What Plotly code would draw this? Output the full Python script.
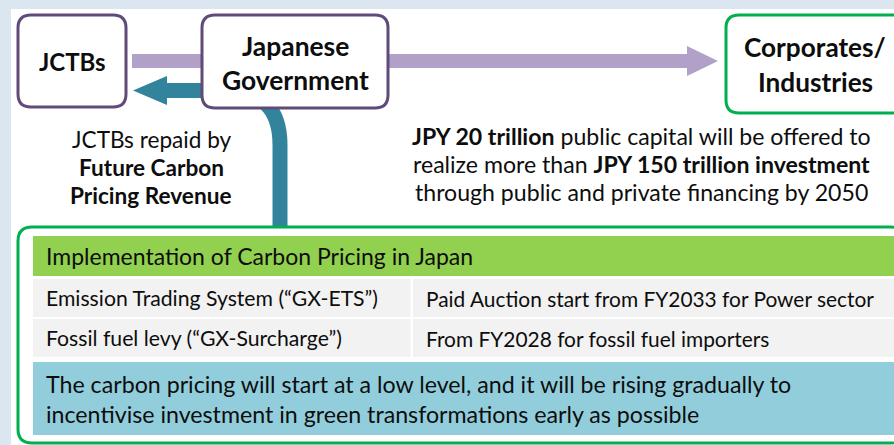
import plotly.graph_objects as go

# ---- content ----
node_left = ["<b>JCTBs</b>"]
node_gov = ["<b>Japanese</b>", "<b>Government</b>"]
node_corp = ["<b>Corporates/</b>", "<b>Industries</b>"]
left_desc = ["JCTBs repaid by", "<b>Future Carbon</b>", "<b>Pricing Revenue</b>"]
right_desc = [
    "<b>JPY 20 trillion</b> public capital will be offered to",
    "realize more than <b>JPY 150 trillion investment</b>",
    "through public and private financing by 2050",
]
table_title = "Implementation of Carbon Pricing in Japan"
table_left = ["Emission Trading System (“GX-ETS”)", "Fossil fuel levy (“GX-Surcharge”)"]
table_right = ["Paid Auction start from FY2033 for Power sector", "From FY2028 for fossil fuel importers"]
note_lines = [
    "The carbon pricing will start at a low level, and it will be rising gradually to",
    "incentivise investment in green transformations early as possible",
]

W, H = 894, 445
FONT = "Lato"
TXT = "#0D0D0D"
PURPLE_B = "#604A7B"
PURPLE_F = "#B1A0C7"
GREEN_B = "#00B050"
TEAL = "#31849B"

shapes = []


def rect(x0, y0, x1, y1, fill, line=None, lw=0):
    shapes.append(dict(type="rect", xref="x", yref="y", x0=x0, y0=y0, x1=x1, y1=y1,
                       fillcolor=fill, line=dict(width=lw, color=line or fill), layer="above"))


def rrect(x0, y0, x1, y1, r, fill, line, lw):
    p = (f"M {x0+r},{y0} L {x1-r},{y0} Q {x1},{y0} {x1},{y0+r} L {x1},{y1-r} "
         f"Q {x1},{y1} {x1-r},{y1} L {x0+r},{y1} Q {x0},{y1} {x0},{y1-r} "
         f"L {x0},{y0+r} Q {x0},{y0} {x0+r},{y0} Z")
    shapes.append(dict(type="path", xref="x", yref="y", path=p, fillcolor=fill,
                       line=dict(width=lw, color=line), layer="above"))


def poly(pts, fill):
    p = "M " + " L ".join(f"{a},{b}" for a, b in pts) + " Z"
    shapes.append(dict(type="path", xref="x", yref="y", path=p, fillcolor=fill,
                       line=dict(width=0, color=fill), layer="above"))


# background panel
rect(11, 9, W + 5, H + 5, "white")

# purple arrow (government -> corporates)
rect(132, 54, 690, 68, PURPLE_F)
poly([(687, 46), (718, 61), (687, 76)], PURPLE_F)

# teal arrow (carbon pricing -> government -> JCTBs)
shapes.append(dict(type="path", xref="x", yref="y",
                   path="M 280,226 L 280,145 Q 280,90.5 225,90.5 L 166,90.5",
                   line=dict(width=15, color=TEAL), fillcolor="rgba(0,0,0,0)", layer="above"))
poly([(167, 76), (133, 90.5), (167, 105)], TEAL)

# node boxes
rrect(18, 15, 126, 107, 13, "white", PURPLE_B, 3)
rrect(202, 15, 388, 108, 13, "white", PURPLE_B, 3)
rrect(726, 15, 905, 113, 13, "white", GREEN_B, 3)

# lower box and table
rrect(18, 227, 905, 443, 14, "white", GREEN_B, 3)
rect(33, 236, W + 5, 276, "#92D050")
rect(33, 279, 410.5, 317, "#F2F2F2")
rect(413, 279, W + 5, 317, "#F2F2F2")
rect(33, 319, 410.5, 357, "#F2F2F2")
rect(413, 319, W + 5, 357, "#F2F2F2")
rect(33, 362, W + 5, 435, "#92CDDC")

annotations = []


def text(x, y, s, size, anchor="center"):
    annotations.append(dict(x=x, y=y, xref="x", yref="y", text=s, showarrow=False,
                            xanchor=anchor, yanchor="middle",
                            font=dict(family=FONT, size=size, color=TXT)))


text(72, 61, node_left[0], 24)
for s, yy in zip(node_gov, [46, 80]):
    text(295, yy, s, 26.4)
for s, yy in zip(node_corp, [47, 82]):
    text(815, yy, s, 26.2)
for s, yy in zip(left_desc, [139, 167, 195]):
    text(151, yy, s, 22.6)
for s, yy in zip(right_desc, [136, 164, 192]):
    text(641, yy, s, 23.1)

text(44, 256, table_title, 23, "left")
for s, yy in zip(table_left, [298, 338]):
    text(44, yy, s, 21.2, "left")
for s, yy in zip(table_right, [298, 338]):
    text(424, yy, s, 20.9, "left")
for s, yy in zip(note_lines, [384, 414]):
    text(44, yy, s, 23.2, "left")

fig = go.Figure()
fig.add_trace(go.Scatter(x=[0, W], y=[0, H], mode="markers", marker=dict(opacity=0),
                         hoverinfo="skip", showlegend=False))
fig.update_layout(
    width=W, height=H, margin=dict(l=0, r=0, t=0, b=0),
    paper_bgcolor="#DCE6F1", plot_bgcolor="#DCE6F1",
    xaxis=dict(range=[0, W], visible=False, fixedrange=True),
    yaxis=dict(range=[H, 0], visible=False, fixedrange=True),
    shapes=shapes, annotations=annotations, showlegend=False,
)
fig.write_html("out.html", config={"displayModeBar": False},
               post_script="document.body.style.margin='0';document.body.style.overflow='hidden';")
